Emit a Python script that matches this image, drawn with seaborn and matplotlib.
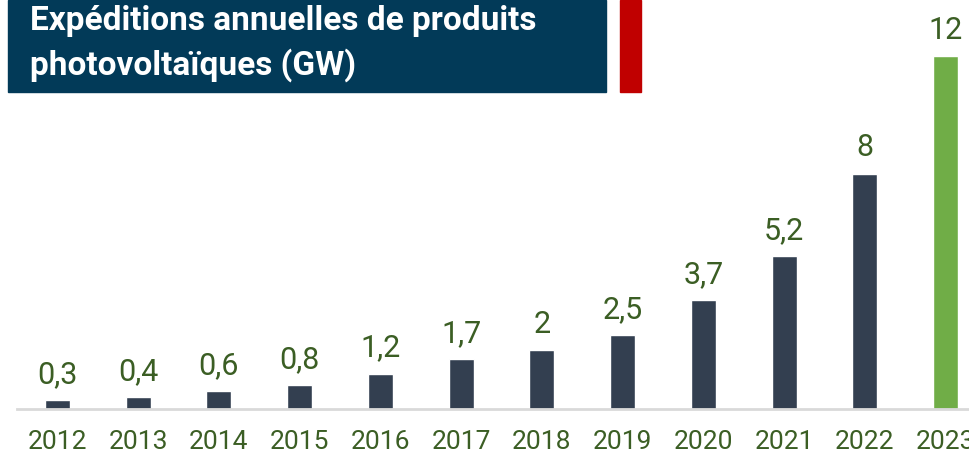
import matplotlib
matplotlib.use('Agg')
import matplotlib.pyplot as plt
import seaborn as sns
import pandas as pd
from matplotlib.patches import Rectangle

# data
years = ['2012', '2013', '2014', '2015', '2016', '2017', '2018', '2019', '2020', '2021', '2022', '2023']
shipments = [0.3, 0.4, 0.6, 0.8, 1.2, 1.7, 2, 2.5, 3.7, 5.2, 8, 12]
title_lines = ['Expéditions annuelles de produits', 'photovoltaïques (GW)']

bar_dark = '#333f50'
bar_green = '#70ad47'
text_green = '#3b5e24'
navy = '#023a58'
red = '#c00000'

sns.set_theme(style='white')
plt.rcParams['font.family'] = ['Roboto', 'DejaVu Sans']

df = pd.DataFrame({'year': years, 'gw': shipments})
palette = {y: (bar_green if y == '2023' else bar_dark) for y in years}

W, H = 969, 455
fig = plt.figure(figsize=(W / 100, H / 100), dpi=100)
# axes run a bit past the right edge, like the original
ax = fig.add_axes([17 / W, 46 / H, (986 - 17) / W, 409 / H])

sns.barplot(data=df, x='year', y='gw', hue='year', palette=palette,
            legend=False, width=0.31, saturation=1, ax=ax)

ax.set_xlim(-0.5, 11.5)
ax.set_ylim(0, 13.9)
ax.set_xlabel('')
ax.set_ylabel('')
ax.set_yticks([])
for side in ['top', 'right', 'left']:
    ax.spines[side].set_visible(False)
ax.spines['bottom'].set_color('#d9d9d9')
ax.spines['bottom'].set_linewidth(2)
ax.tick_params(axis='x', length=0, pad=15, labelsize=19, labelcolor=text_green)

for cont in ax.containers:
    labels = []
    for bar in cont:
        v = bar.get_height()
        s = f'{v:g}'.replace('.', ',')
        labels.append(s)
    ax.bar_label(cont, labels=labels, padding=8, fontsize=22, color=text_green)

# title banner
fig.patches.append(Rectangle((8 / W, 1 - 92 / H), (606 - 8) / W, 92 / H,
                             transform=fig.transFigure, color=navy, zorder=5))
fig.patches.append(Rectangle((620 / W, 1 - 92 / H), (641 - 620) / W, 92 / H,
                             transform=fig.transFigure, color=red, zorder=5))
fig.text(30 / W, 1 - 30 / H, title_lines[0], color='white', fontsize=24,
         fontweight='bold', va='baseline', ha='left', zorder=6)
fig.text(30 / W, 1 - 75 / H, title_lines[1], color='white', fontsize=24,
         fontweight='bold', va='baseline', ha='left', zorder=6)

fig.savefig('out.png', dpi=100)
